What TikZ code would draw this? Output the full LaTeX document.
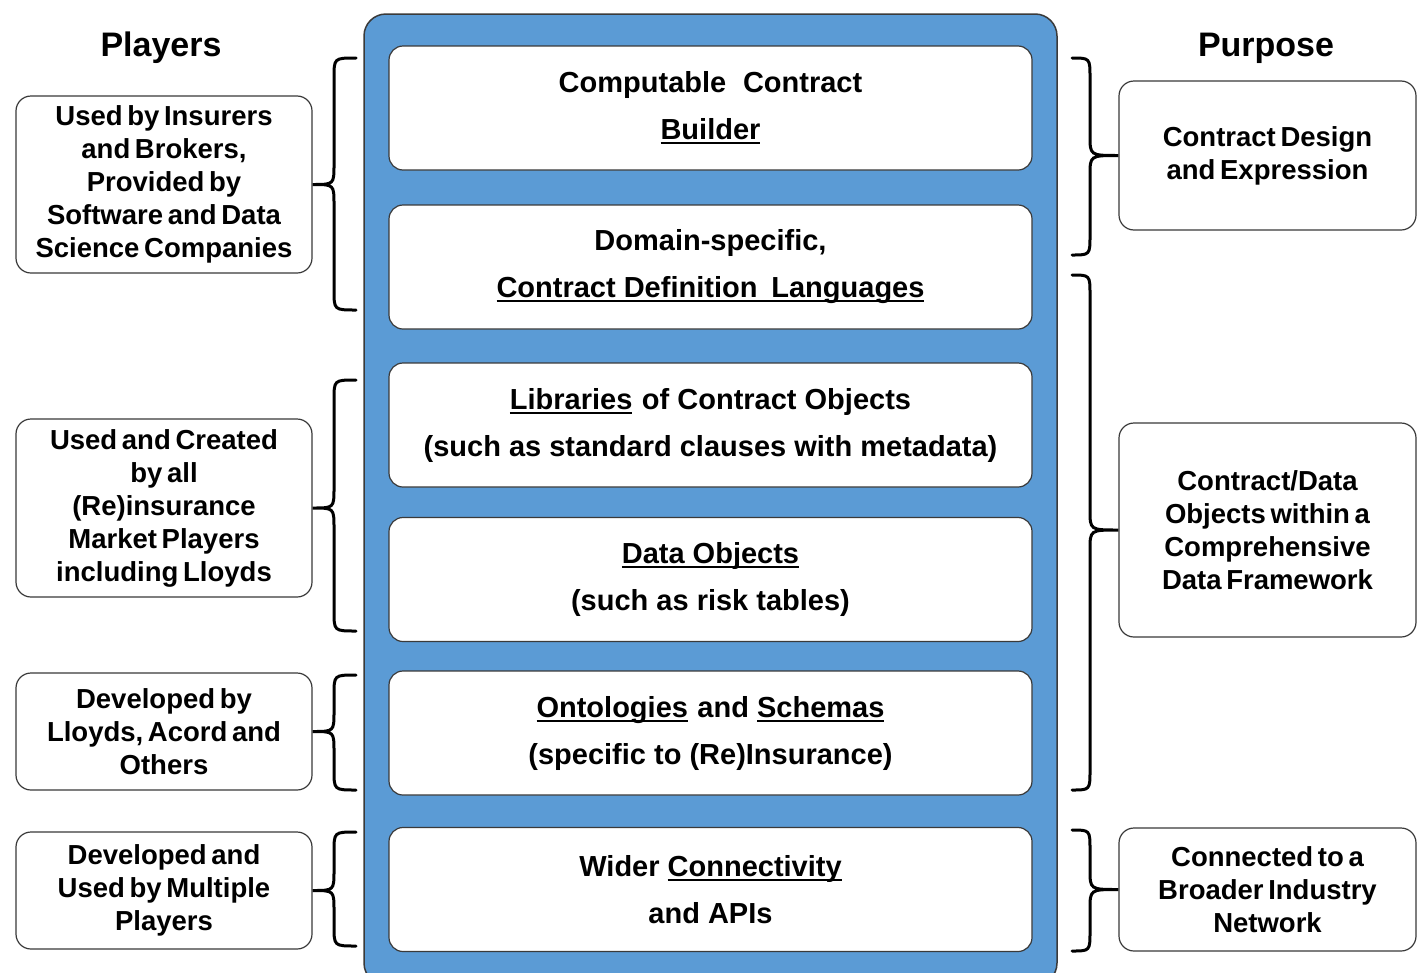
\documentclass[tikz,border=0pt]{standalone}
\usepackage{fontspec}
\setmainfont{Liberation Sans}
\definecolor{panelblue}{HTML}{5B9BD5}
\definecolor{edgegray}{HTML}{3A3A3A}
\newcommand\ulx[1]{\setbox0\hbox{#1}\rlap{\rule[-4.5pt]{\wd0}{2pt}}\box0}
\newcommand\tightsp{\spaceskip=0.17em plus 0.05em\relax}
\newcommand\lbr[5]{% #1 tip node, #2 top y, #3 bottom y, #4 tip y
  \draw[brace] (356,#2) .. controls (334,#2) .. (334,#2+20) -- (334,#4-20)
    .. controls (334,#4) .. (#1.east) .. controls (334,#4) .. (334,#4+20)
    -- (334,#3-20) .. controls (334,#3) .. (356,#3);}
\newcommand\rbr[5]{%
  \draw[brace] (1072,#2) .. controls (1090,#2) .. (1090,#2+20) -- (1090,#4-20)
    .. controls (1090,#4) .. (#1.west) .. controls (1090,#4) .. (1090,#4+20)
    -- (1090,#3-20) .. controls (1090,#3) .. (1072,#3);}
\begin{document}
\begin{tikzpicture}[x=1pt,y=-1pt,
  panel/.style={draw=edgegray, line width=1.5pt, fill=panelblue, rounded corners=22pt, inner sep=0pt},
  layer/.style={draw=edgegray, line width=1.2pt, fill=white, rounded corners=14pt,
    minimum width=643pt, minimum height=124pt, align=center, inner sep=0pt,
    font=\fontsize{29}{47}\selectfont\bfseries},
  side/.style={draw=edgegray, line width=1.2pt, fill=white, rounded corners=15pt,
    minimum width=296pt, align=center, inner sep=0pt,
    font=\fontsize{27.5}{33}\selectfont\bfseries\tightsp},
  header/.style={font=\fontsize{34}{40}\selectfont\bfseries, inner sep=0pt},
  brace/.style={draw=black, line width=3pt, line cap=round}]
\useasboundingbox (0,0) rectangle (1423,972);
\clip (0,0) rectangle (1423,972);
\fill[white] (0,0) rectangle (1423,972);

\node[panel, minimum width=693pt, minimum height=971pt] (panel) at (710.5,499.5) {};

\node[layer] (c1) at (710.5,108) {Computable\hspace{0.3em} Contract\\\ulx{Builder}};
\node[layer] (c2) at (710.5,267) {Domain-specific,\\\ulx{Contract Definition\hspace{0.2em} Languages}};
\node[layer] (c3) at (710.5,425) {\ulx{Libraries}\hspace{0.05em} of Contract Objects\\(such as standard clauses with metadata)};
\node[layer] (c4) at (710.5,579.5) {\ulx{Data Objects}\\(such as risk tables)};
\node[layer] (c5) at (710.5,733) {\ulx{Ontologies}\hspace{0.05em} and \ulx{Schemas}\\(specific to (Re)Insurance)};
\node[layer] (c6) at (710.5,889.5) {Wider \ulx{Connectivity}\\and APIs};

\node[header] (hp) at (161,48) {Players};
\node[header] (hu) at (1266,48) {Purpose};

\node[side, minimum height=177pt] (l1) at (164,184.5) {Used by Insurers\\and Brokers,\\Provided by\\Software and Data\\Science Companies};
\node[side, minimum height=178pt] (l2) at (164,508) {Used and Created\\by all\\(Re)insurance\\Market Players\\including Lloyds};
\node[side, minimum height=117pt] (l3) at (164,731.5) {Developed by\\Lloyds, Acord and\\Others};
\node[side, minimum height=117pt] (l4) at (164,890.5) {Developed and\\Used by Multiple\\Players};

\node[side, minimum width=297pt, minimum height=149pt] (r1) at (1267.5,155.5) {Contract Design\\and Expression};
\node[side, minimum width=297pt, minimum height=214pt] (r2) at (1267.5,530) {Contract/Data\\Objects within a\\Comprehensive\\Data Framework};
\node[side, minimum width=297pt, minimum height=123pt] (r3) at (1267.5,889.5) {Connected to a\\Broader Industry\\Network};

\lbr{l1}{58}{310}{184.5}{}
\lbr{l2}{380}{631}{508}{}
\lbr{l3}{675}{790}{731.5}{}
\lbr{l4}{832}{946}{890.5}{}
\rbr{r1}{58}{255}{155.5}{}
\rbr{r2}{275}{790}{530}{}
\rbr{r3}{830}{951}{889.5}{}
\end{tikzpicture}
\end{document}
